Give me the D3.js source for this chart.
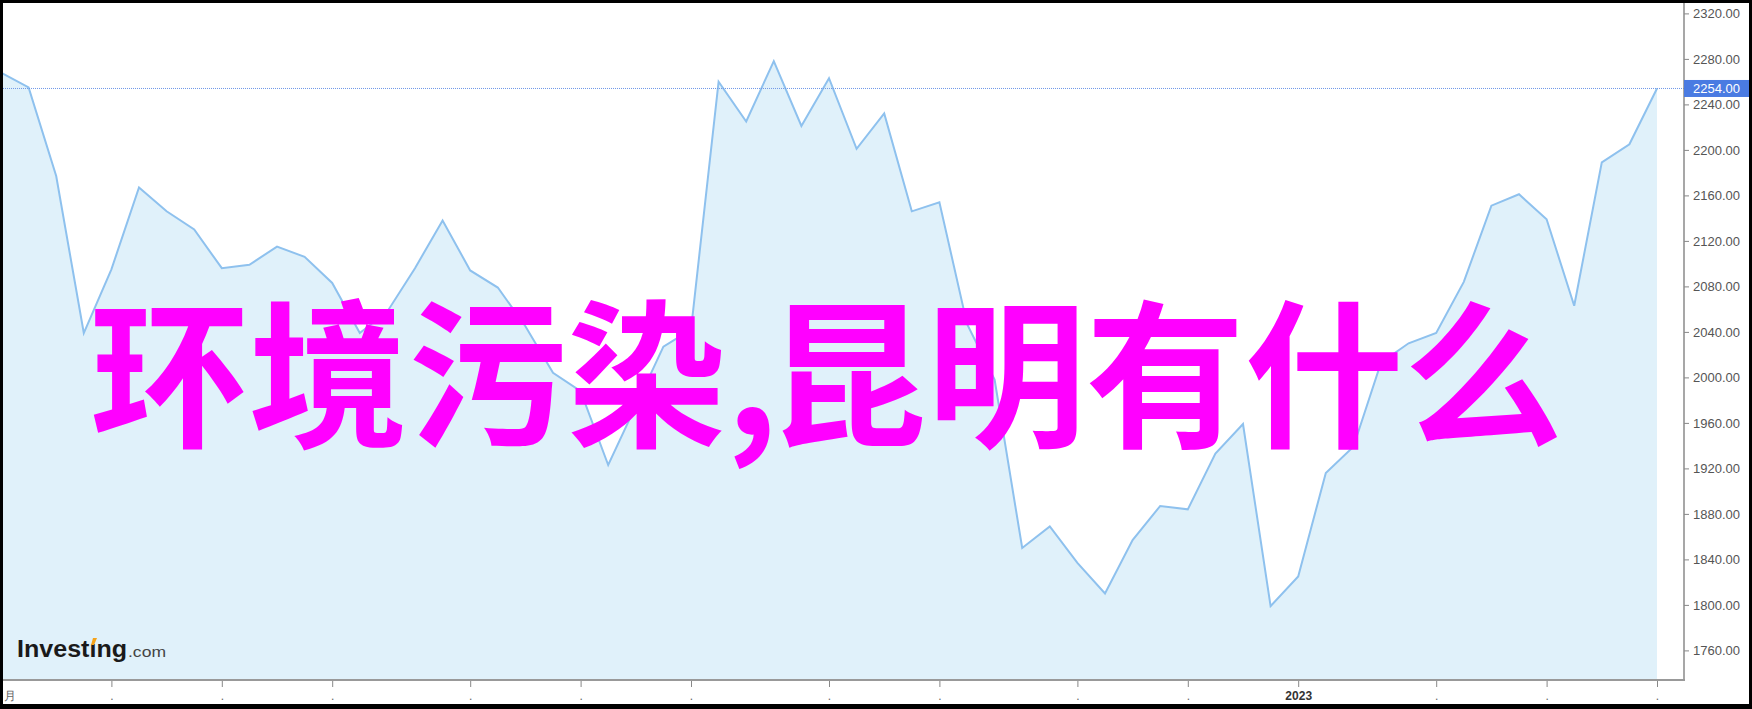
<!DOCTYPE html>
<html><head><meta charset="utf-8">
<script src="https://cdn.jsdelivr.net/npm/d3@7"></script>
<style>body{margin:0;background:#000;} svg{display:block}</style>
</head><body>
<svg id="c" width="1752" height="709"></svg>
<script>
// weekly dates (Mondays)
const weeks = [
"2022-02-07","2022-02-14","2022-02-21","2022-02-28",
"2022-03-07","2022-03-14","2022-03-21","2022-03-28",
"2022-04-04","2022-04-11","2022-04-18","2022-04-25",
"2022-05-02","2022-05-09","2022-05-16","2022-05-23","2022-05-30",
"2022-06-06","2022-06-13","2022-06-20","2022-06-27",
"2022-07-04","2022-07-11","2022-07-18","2022-07-25",
"2022-08-01","2022-08-08","2022-08-15","2022-08-22","2022-08-29",
"2022-09-05","2022-09-12","2022-09-19","2022-09-26",
"2022-10-03","2022-10-10","2022-10-17","2022-10-24","2022-10-31",
"2022-11-07","2022-11-14","2022-11-21","2022-11-28",
"2022-12-05","2022-12-12","2022-12-19","2022-12-26",
"2023-01-02","2023-01-09","2023-01-16","2023-01-23","2023-01-30",
"2023-02-06","2023-02-13","2023-02-20","2023-02-27",
"2023-03-06","2023-03-13","2023-03-20","2023-03-27",
"2023-04-03"];
const prices = [
2268,2255,2177,2039,
2095,2167,2146,2130,
2096,2099,2115,2106,
2083,2039,2058,2096,2138,
2094,2079,2045,2004,
1988,1923,1975,2027,
2042,2260,2225,2278,2221,
2263,2201,2232,2146,
2154,2047,1998,1850,1869,
1837,1810,1857,1887,
1884,1933,1959,1799,
1825,1916,1939,2013,2030,
2039,2084,2151,2161,
2139,2063,2189,2205,
2254];
const lastPrice = 2254;
const yTicks = [1760,1800,1840,1880,1920,1960,2000,2040,2080,2120,2160,2200,2240,2280,2320];
const xTickDates = ["2022-02-07","2022-03-07","2022-04-04","2022-05-02","2022-06-06","2022-07-04","2022-08-01",
"2022-09-05","2022-10-03","2022-11-07","2022-12-05","2023-01-02","2023-02-06","2023-03-06","2023-04-03"];
const xTickLabels = ["月",".",".",".",".",".",".",".",".",".",".","2023",".",".","."];
const titlePart1 = "环境污染,";
const titlePart2 = "昆明有什么";

const parse = d3.timeParse("%Y-%m-%d");
const data = weeks.map((w,i)=>({date:parse(w), v:prices[i]}));

const svg = d3.select("#c");
const W = 1752, H = 709;
const axisX = 1684, axisY = 680;

svg.append("rect").attr("x",3).attr("y",3).attr("width",1746).attr("height",701).attr("fill","#fff");

const x = d3.scaleTime().domain([parse(weeks[0]), parse(weeks[weeks.length-1])]).range([1,1657]);
const y = d3.scaleLinear().domain([1760,2320]).range([650.4,13.4]);

// area
svg.append("path").datum(data)
  .attr("d", d3.area().x(d=>x(d.date)).y0(axisY).y1(d=>y(d.v)))
  .attr("fill","#e0f1fa");
svg.append("path").datum(data)
  .attr("d", d3.line().x(d=>x(d.date)).y(d=>y(d.v)))
  .attr("fill","none").attr("stroke","#8ec1ee").attr("stroke-width",2).attr("stroke-linejoin","miter");

// last price dotted line
svg.append("line").attr("x1",3).attr("x2",axisX).attr("y1",y(lastPrice)).attr("y2",y(lastPrice))
  .attr("stroke","#6f98e8").attr("stroke-width",1).attr("stroke-dasharray","1,1");

// right axis
const ya = svg.append("g").attr("transform",`translate(${axisX},0)`)
  .call(d3.axisRight(y).tickValues(yTicks).tickFormat(d=>d.toFixed(2)).tickSize(5).tickPadding(4));
ya.select(".domain").remove();
ya.selectAll(".tick line").attr("stroke","#888");
ya.selectAll(".tick text").attr("fill","#555").style("font-family","'Liberation Sans',Arial,sans-serif").style("font-size","13px");
svg.append("line").attr("x1",axisX).attr("x2",axisX).attr("y1",3).attr("y2",axisY+1).attr("stroke","#8a8a8a").attr("stroke-width",1.5);

// bottom axis
const xa = svg.append("g").attr("transform",`translate(0,${axisY})`)
  .call(d3.axisBottom(x).tickValues(xTickDates.map(parse)).tickFormat((d,i)=>xTickLabels[i]).tickSize(7));
xa.select(".domain").remove();
xa.selectAll(".tick line").attr("stroke","#888");
xa.selectAll(".tick text").attr("y",20).attr("dy",0)
  .style("font-family","'Liberation Sans',Arial,sans-serif").style("font-size","12px")
  .style("font-weight",(d,i)=>xTickLabels[i]==="2023"?"bold":"normal")
  .attr("fill",(d,i)=>xTickLabels[i]==="2023"?"#333":"#666")
  .attr("text-anchor",(d,i)=>i===0?"start":"middle")
  .attr("x",(d,i)=>i===0?2:0);
svg.append("line").attr("x1",0).attr("x2",axisX+1).attr("y1",axisY).attr("y2",axisY).attr("stroke","#999").attr("stroke-width",2);

// last price label
const ly = y(lastPrice);
svg.append("rect").attr("x",axisX).attr("y",ly-8.5).attr("width",W-axisX).attr("height",17).attr("fill","#4a7be2");
svg.append("text").attr("x",axisX+9).attr("y",ly).attr("dy","0.35em").attr("fill","#fff")
  .style("font-family","'Liberation Sans',Arial,sans-serif").style("font-size","13px").text(lastPrice.toFixed(2));

// logo
const logo = svg.append("g");
logo.append("text").attr("x",17).attr("y",657).attr("textLength",110).attr("lengthAdjust","spacingAndGlyphs")
  .style("font-family","'Liberation Sans Narrow','Liberation Sans',Arial,sans-serif").style("font-weight","bold").style("font-size","23px")
  .attr("fill","#1a1a1a").text("Investıng");
logo.append("text").attr("x",128).attr("y",657).attr("textLength",38).attr("lengthAdjust","spacingAndGlyphs")
  .style("font-family","'Liberation Sans Narrow','Liberation Sans',Arial,sans-serif").style("font-size","14px")
  .attr("fill","#444").text(".com");
logo.append("polygon").attr("points","91,645 93,638 97,638 94,645").attr("fill","#f5a31a");

// overlay title
const t = svg.append("text").attr("x",90).attr("y",435)
  .style("font-family","'Noto Sans CJK SC',sans-serif").style("font-weight","bold").style("font-size","159px")
  .attr("fill","#ff00ff");
t.append("tspan").text(titlePart1);
t.append("tspan").attr("dx",-10).text(titlePart2);

// black frame
[[0,0,W,3],[0,0,3,H],[0,704,W,5],[1749,0,3,H]].forEach(r=>
  svg.append("rect").attr("x",r[0]).attr("y",r[1]).attr("width",r[2]).attr("height",r[3]).attr("fill","#000"));
</script>
</body></html>
